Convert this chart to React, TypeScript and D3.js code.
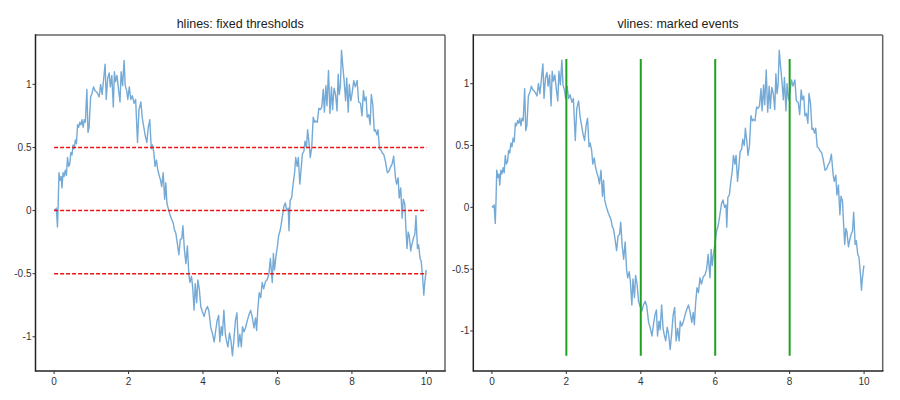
import * as d3 from "d3"

// noisy signal (x, value)
const signal: [number, number][] = [
  [0.00, 0.01], [0.03, 0.00], [0.06, 0.02], [0.09, -0.13], [0.11, 0.05], [0.13, 0.30], [0.16, 0.24],
  [0.19, 0.27], [0.21, 0.18], [0.24, 0.30], [0.27, 0.27], [0.30, 0.32], [0.33, 0.28], [0.36, 0.42],
  [0.39, 0.35], [0.42, 0.37], [0.45, 0.46], [0.48, 0.44], [0.51, 0.52], [0.54, 0.49], [0.57, 0.56],
  [0.60, 0.53], [0.63, 0.68], [0.66, 0.66], [0.69, 0.70], [0.72, 0.68], [0.75, 0.72], [0.78, 0.66],
  [0.81, 0.72], [0.84, 0.70], [0.88, 0.96], [0.91, 0.62], [0.94, 0.66], [0.98, 0.90],
  [1.02, 0.93], [1.06, 0.98], [1.10, 0.95], [1.14, 0.94], [1.18, 0.92], [1.21, 0.90], [1.25, 1.00],
  [1.29, 0.92], [1.33, 1.04], [1.37, 1.16], [1.40, 0.88], [1.44, 1.05], [1.48, 1.09], [1.51, 0.98],
  [1.55, 1.07], [1.59, 0.82], [1.62, 1.10], [1.65, 1.02], [1.69, 1.07], [1.73, 0.96], [1.77, 0.86],
  [1.80, 1.10], [1.84, 0.99], [1.88, 1.19], [1.91, 0.99], [1.95, 0.95], [1.98, 0.88],
  [2.02, 0.98], [2.06, 0.88], [2.10, 0.91], [2.15, 0.85], [2.19, 0.88], [2.24, 0.54], [2.28, 0.80],
  [2.33, 0.86], [2.37, 0.73], [2.41, 0.66], [2.45, 0.59], [2.49, 0.54], [2.53, 0.66], [2.57, 0.72],
  [2.61, 0.49], [2.64, 0.52], [2.68, 0.46], [2.71, 0.35], [2.75, 0.40], [2.78, 0.33], [2.82, 0.28],
  [2.86, 0.24], [2.89, 0.19], [2.93, 0.30], [2.97, 0.09], [3.00, 0.22], [3.03, 0.06], [3.07, 0.01],
  [3.12, -0.04], [3.16, -0.07], [3.20, -0.10], [3.23, -0.15], [3.27, -0.18], [3.31, -0.26], [3.35, -0.35],
  [3.39, -0.23], [3.43, -0.22], [3.46, -0.12], [3.50, -0.31], [3.54, -0.42], [3.58, -0.28], [3.62, -0.51],
  [3.65, -0.57], [3.69, -0.52], [3.72, -0.60], [3.76, -0.79], [3.79, -0.58], [3.83, -0.73], [3.86, -0.55],
  [3.90, -0.62], [3.94, -0.76], [3.98, -0.80],
  [4.03, -0.84], [4.07, -0.79], [4.12, -0.76], [4.16, -0.80], [4.21, -0.93], [4.25, -0.97], [4.30, -1.04],
  [4.34, -0.95], [4.38, -0.87], [4.42, -0.83], [4.45, -1.04], [4.49, -0.92], [4.52, -0.99], [4.56, -0.79],
  [4.60, -0.98], [4.63, -1.03], [4.67, -1.08], [4.71, -0.97], [4.75, -1.03], [4.79, -1.15], [4.83, -1.02],
  [4.87, -0.87], [4.91, -0.81], [4.95, -1.08], [4.99, -0.98],
  [5.03, -1.08], [5.06, -0.92], [5.10, -0.96], [5.14, -0.93], [5.19, -0.87], [5.23, -0.83], [5.28, -0.79],
  [5.32, -0.84], [5.37, -0.93], [5.41, -0.85], [5.44, -0.95], [5.47, -0.79], [5.51, -0.65], [5.55, -0.69],
  [5.59, -0.57], [5.63, -0.62], [5.68, -0.56], [5.72, -0.55], [5.77, -0.50], [5.81, -0.38], [5.86, -0.57],
  [5.89, -0.34], [5.92, -0.47], [5.96, -0.36], [6.00, -0.28],
  [6.03, -0.20], [6.07, -0.16], [6.10, -0.11], [6.13, -0.05], [6.17, 0.03], [6.21, 0.06], [6.25, 0.00],
  [6.29, 0.02], [6.31, -0.16], [6.34, 0.08], [6.38, 0.10], [6.42, 0.21], [6.46, 0.30], [6.49, 0.42],
  [6.53, 0.35], [6.56, 0.42], [6.60, 0.21], [6.63, 0.31], [6.67, 0.45], [6.71, 0.47], [6.74, 0.55],
  [6.78, 0.50], [6.81, 0.64], [6.85, 0.53], [6.88, 0.42], [6.92, 0.50], [6.96, 0.74], [7.00, 0.70],
  [7.03, 0.71], [7.07, 0.70], [7.11, 0.81], [7.15, 0.80], [7.19, 0.82], [7.23, 0.96], [7.26, 0.78],
  [7.30, 0.99], [7.33, 0.83], [7.37, 1.11], [7.41, 0.77], [7.45, 0.98], [7.48, 0.80], [7.52, 0.97],
  [7.56, 0.92], [7.60, 0.79], [7.63, 1.08], [7.66, 0.92], [7.69, 0.99], [7.72, 1.27], [7.75, 1.16],
  [7.79, 1.03], [7.83, 0.87], [7.86, 1.05], [7.90, 0.78], [7.93, 1.00], [7.97, 0.87],
  [8.00, 0.92], [8.05, 1.03], [8.09, 0.98], [8.14, 1.03], [8.18, 0.86], [8.23, 0.85], [8.27, 0.75],
  [8.31, 0.95], [8.34, 0.87], [8.38, 0.90], [8.41, 0.74], [8.45, 0.76], [8.49, 0.68], [8.52, 0.92],
  [8.56, 0.84], [8.60, 0.63], [8.63, 0.64], [8.67, 0.60], [8.70, 0.64], [8.74, 0.49], [8.78, 0.48],
  [8.81, 0.46], [8.86, 0.44], [8.90, 0.39], [8.95, 0.30], [8.99, 0.31],
  [9.03, 0.34], [9.08, 0.37], [9.12, 0.43], [9.17, 0.26], [9.20, 0.21], [9.24, 0.26], [9.27, 0.10],
  [9.31, 0.18], [9.35, -0.06], [9.38, 0.09], [9.42, 0.05], [9.45, -0.14], [9.48, -0.30], [9.51, -0.17],
  [9.54, -0.20], [9.58, -0.32], [9.61, -0.27], [9.65, -0.22], [9.69, -0.19], [9.72, -0.04], [9.76, -0.30],
  [9.79, -0.27], [9.83, -0.38], [9.86, -0.40], [9.90, -0.53], [9.93, -0.67], [9.95, -0.59], [9.99, -0.48],
  [10.00, -0.47],
]

const thresholds = [0.5, 0, -0.5]
const thresholdSpan: [number, number] = [0, 10]
const events = [2, 4, 6, 8]
const eventSpan: [number, number] = [-1.2, 1.2]
const xTicks = [0, 2, 4, 6, 8, 10]
const yTicks = [1, 0.5, 0, -0.5, -1]

const W = 900
const H = 400
const TOP = 35
const BOTTOM = 371
const LINE_COLOR = "#75aad6"
const FONT = "'Liberation Sans', Arial, sans-serif"

function padded([lo, hi]: [number, number], f = 0.05): [number, number] {
  const p = (hi - lo) * f
  return [lo - p, hi + p]
}

const xExt = d3.extent(signal, (d) => d[0]) as [number, number]
const yExt = d3.extent(signal, (d) => d[1]) as [number, number]

interface PanelProps {
  x0: number
  x1: number
  title: string
  yDomain: [number, number]
  overlay: (xs: d3.ScaleLinear<number, number>, ys: d3.ScaleLinear<number, number>) => JSX.Element
}

function Panel({ x0, x1, title, yDomain, overlay }: PanelProps) {
  const xs = d3.scaleLinear().domain(padded(xExt)).range([x0, x1])
  const ys = d3.scaleLinear().domain(yDomain).range([BOTTOM, TOP])
  const line = d3.line<[number, number]>().x((d) => xs(d[0])).y((d) => ys(d[1]))

  return (
    <g>
      <text x={(x0 + x1) / 2} y={28} textAnchor="middle" fontSize={12.5} fill="#222">{title}</text>
      <path d={line(signal) ?? ""} fill="none" stroke={LINE_COLOR} strokeWidth={1.4} strokeLinejoin="round" />
      {overlay(xs, ys)}
      {/* frame: top/right lighter, left/bottom dark */}
      <line x1={x0} x2={x1} y1={TOP} y2={TOP} stroke="#666" strokeWidth={1.5} />
      <line x1={x1} x2={x1} y1={TOP} y2={BOTTOM} stroke="#666" strokeWidth={1.5} />
      <line x1={x0} x2={x0} y1={TOP - 0.75} y2={BOTTOM + 0.75} stroke="#222" strokeWidth={1.5} />
      <line x1={x0} x2={x1 + 0.75} y1={BOTTOM} y2={BOTTOM} stroke="#222" strokeWidth={1.5} />
      {xTicks.map((t) => (
        <g key={t} transform={`translate(${xs(t)},${BOTTOM})`}>
          <line y1={0} y2={3} stroke="#333" />
          <text y={14} textAnchor="middle" fontSize={10} fill="#333">{String(t)}</text>
        </g>
      ))}
      {yTicks.map((t) => (
        <g key={t} transform={`translate(${x0},${ys(t)})`}>
          <line x1={0} x2={-3} stroke="#333" />
          <text x={-4} dy="0.34em" textAnchor="end" fontSize={10} fill="#333">{String(t)}</text>
        </g>
      ))}
    </g>
  )
}

export default function App() {
  const leftY = padded(yExt)
  const rightY = padded([Math.min(yExt[0], eventSpan[0]), Math.max(yExt[1], eventSpan[1])])

  return (
    <svg width={W} height={H} style={{ position: "absolute", left: 0, top: 0, background: "#fff", fontFamily: FONT }}>
      <Panel
        x0={35.5}
        x1={445}
        title="hlines: fixed thresholds"
        yDomain={leftY}
        overlay={(xs, ys) => (
          <g>
            {thresholds.map((t) => (
              <line key={t} x1={xs(thresholdSpan[0])} x2={xs(thresholdSpan[1])} y1={ys(t)} y2={ys(t)}
                stroke="#ee1111" strokeWidth={1.6} strokeDasharray="4,2" />
            ))}
          </g>
        )}
      />
      <Panel
        x0={473.3}
        x1={882.7}
        title="vlines: marked events"
        yDomain={rightY}
        overlay={(xs, ys) => (
          <g>
            {events.map((e) => (
              <line key={e} x1={xs(e)} x2={xs(e)} y1={ys(eventSpan[0])} y2={ys(eventSpan[1])}
                stroke="#22a022" strokeWidth={2} />
            ))}
          </g>
        )}
      />
    </svg>
  )
}
